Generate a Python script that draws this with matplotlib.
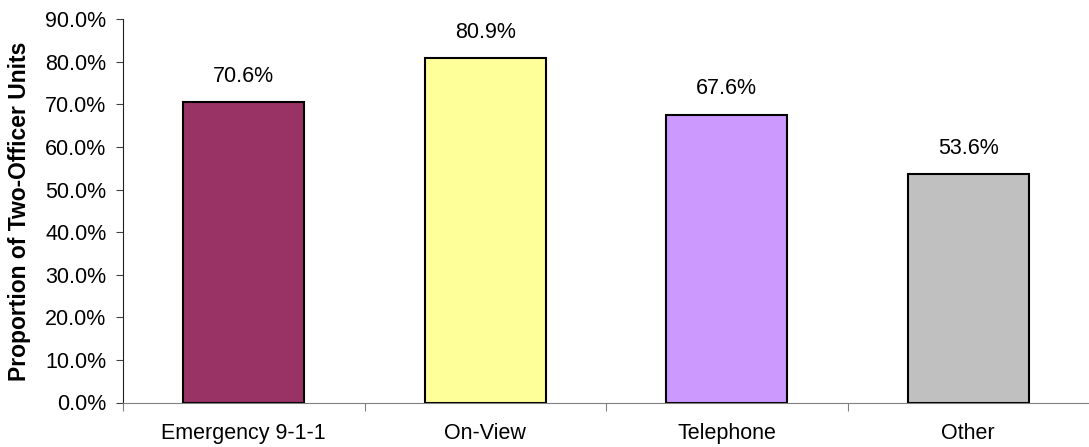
import numpy as np
import matplotlib
matplotlib.use("Agg")
import matplotlib.pyplot as plt
from matplotlib.ticker import FuncFormatter

plt.rcParams['font.family'] = ['Liberation Sans', 'DejaVu Sans']

# data
categories = ["Emergency 9-1-1", "On-View", "Telephone", "Other"]
values = [70.6, 80.9, 67.6, 53.6]
bar_colors = ["#993366", "#FFFF99", "#CC99FF", "#C0C0C0"]

fig = plt.figure(figsize=(10.89, 4.47), dpi=100)
ax = fig.add_axes([123 / 1089, 1 - 402.5 / 447, 1 - 123 / 1089, (402.5 - 19.3) / 447])

x = np.arange(len(categories))
bars = ax.bar(x, values, width=0.5, color=bar_colors, edgecolor="black", linewidth=1.5)

for b, v in zip(bars, values):
    ax.annotate(f"{v:.1f}%", (b.get_x() + b.get_width() / 2, v),
                xytext=(0, 11), textcoords="offset points",
                ha="center", va="bottom", fontsize=15.5)

ax.set_xlim(-0.5, len(categories) - 0.5)
ax.set_ylim(0, 90)
ax.set_yticks(np.arange(0, 91, 10))
ax.yaxis.set_major_formatter(FuncFormatter(lambda v, p: f"{v:.1f}%"))

# tick marks between categories, labels centred under bars
ax.set_xticks(np.arange(-0.5, len(categories) - 0.5, 1.0))
ax.set_xticklabels([])
ax.set_xticks(x, minor=True)
ax.set_xticklabels(categories, minor=True)
ax.tick_params(axis="x", which="minor", length=0, pad=15, labelsize=15.5)
ax.tick_params(axis="x", which="major", length=6, direction="out", color="#808080")
ax.tick_params(axis="y", length=5, direction="out", pad=7, labelsize=15.5, color="#404040")

ax.set_ylabel("Proportion of Two-Officer Units", fontsize=16.5, fontweight="bold", labelpad=10)

for s in ["top", "right"]:
    ax.spines[s].set_visible(False)
ax.spines["left"].set_color("#202020")
ax.spines["bottom"].set_color("#808080")

fig.savefig("out.png", dpi=100)
